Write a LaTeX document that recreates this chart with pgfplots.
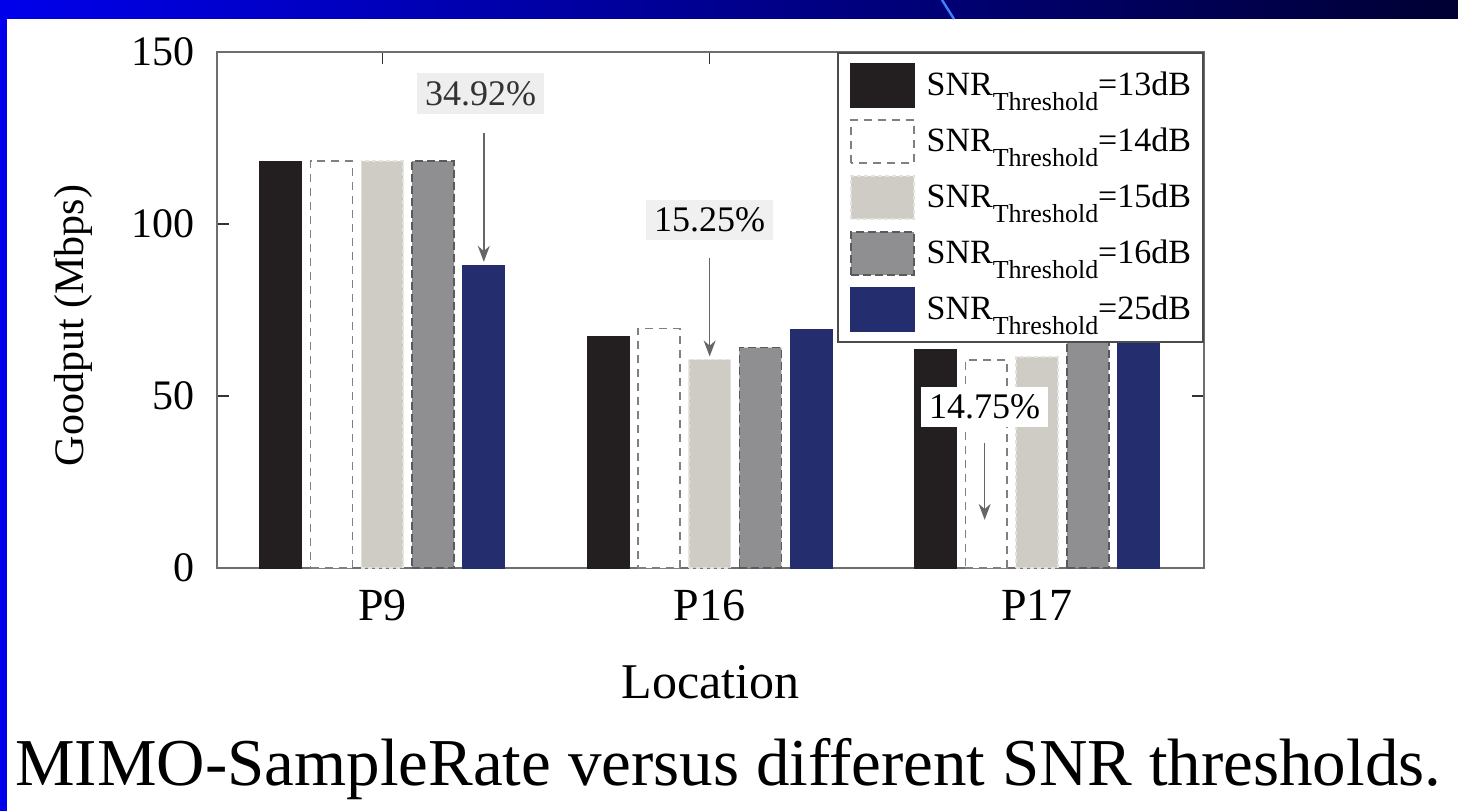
\documentclass[border=0pt]{standalone}
\usepackage{pgfplots}
\pgfplotsset{compat=1.18}
\usepackage{fontspec}
\setmainfont{Liberation Serif}
\usetikzlibrary{arrows.meta}
\definecolor{c13}{RGB}{35,31,32}
\definecolor{c14e}{RGB}{128,128,128}
\definecolor{c15}{RGB}{206,204,196}
\definecolor{c15e}{RGB}{228,226,220}
\definecolor{c16}{RGB}{143,143,146}
\definecolor{c16e}{RGB}{90,90,92}
\definecolor{c25}{RGB}{36,46,110}
\definecolor{axgray}{RGB}{110,110,110}
\definecolor{bgL}{RGB}{0,0,235}
\definecolor{bgM}{RGB}{0,0,190}
\definecolor{bgR}{RGB}{0,0,50}
\definecolor{streak}{RGB}{60,130,255}
\definecolor{boxA}{RGB}{238,238,238}
\definecolor{boxB}{RGB}{240,240,240}
\newcommand\sub[1]{\raisebox{-7.5pt}{\fontsize{13}{13}\selectfont #1}}
\begin{document}
\begin{tikzpicture}
\useasboundingbox (0,0) rectangle (729pt,405.5pt);
\fill[white] (0,0) rectangle (729pt,405.5pt);
\shade[left color=bgL, middle color=bgM, right color=bgR] (0,396pt) rectangle (729pt,405.5pt);
\fill[bgL] (0,0) rectangle (3.5pt,405.5pt);
\draw[streak, line width=1.2pt] (471pt,405.5pt) -- (477pt,396pt);
\begin{axis}[
  at={(108.5pt,121.5pt)}, anchor=south west,
  scale only axis, width=493.5pt, height=258pt,
  xmin=-0.505, xmax=2.51, ymin=0, ymax=150,
  xtick={0,1,2}, xticklabels={P9,P16,P17},
  ytick={0,50,100,150}, yticklabels={0,50,100,150},
  tick align=inside, major tick length=6pt,
  axis line style={axgray, line width=0.9pt},
  tick style={black!80, line width=0.7pt},
  xticklabel style={font=\fontsize{23}{23}\selectfont, inner sep=0pt, yshift=-11pt},
  yticklabel style={font=\fontsize{21}{21}\selectfont, inner sep=0pt, xshift=-11pt},
  xlabel={Location},
  xlabel style={font=\fontsize{25}{25}\selectfont, at={(axis description cs:0.5,-0.222)}, anchor=center},
  ylabel={Goodput (Mbps)},
  ylabel style={font=\fontsize{21}{21}\selectfont, at={(axis description cs:-0.146,0.47)}, anchor=center},
  legend style={at={(1,1)}, anchor=north east, draw=black!70, line width=0.9pt, fill=white,
    inner xsep=6pt, inner ysep=5pt, row sep=5.5pt, column sep=6pt,
    font=\fontsize{17}{17}\selectfont, nodes={inner sep=0pt}},
  legend cell align=left,
  legend image code/.code={\draw[#1, line width=0.9pt] (0pt,-10.8pt) rectangle (31.5pt,10.8pt);},
]
\addplot[ybar, bar width=0.128, bar shift=-0.31, fill=c13, draw=c13]
  coordinates {(0,118.3) (1,67.3) (2,63.6)};
\addlegendentry{SNR\sub{Threshold}=13dB}
\addplot[ybar, bar width=0.128, bar shift=-0.155, fill=white, draw=c14e, dash pattern=on 4pt off 3pt, line width=0.8pt]
  coordinates {(0,118.3) (1,69.6) (2,60.5)};
\addlegendentry{SNR\sub{Threshold}=14dB}
\addplot[ybar, bar width=0.128, bar shift=0, fill=c15, draw=c15e, dash pattern=on 2pt off 1.5pt, line width=0.8pt]
  coordinates {(0,118.3) (1,60.6) (2,61.4)};
\addlegendentry{SNR\sub{Threshold}=15dB}
\addplot[ybar, bar width=0.128, bar shift=0.155, fill=c16, draw=c16e, dash pattern=on 4pt off 2pt, line width=0.8pt]
  coordinates {(0,118.3) (1,64.1) (2,71)};
\addlegendentry{SNR\sub{Threshold}=16dB}
\addplot[ybar, bar width=0.128, bar shift=0.31, fill=c25, draw=c25]
  coordinates {(0,88) (1,69.3) (2,74)};
\addlegendentry{SNR\sub{Threshold}=25dB}
\node[fill=boxA, text=black!80, font=\fontsize{18}{18}\selectfont, inner xsep=4pt, inner ysep=4pt] at (0.30,138) {34.92\%};
\draw[-{Stealth[length=8pt,width=6pt]}, black!60, line width=0.7pt] (0.31,126.5) -- (0.31,89);
\node[fill=boxB, text=black, font=\fontsize{18}{18}\selectfont, inner xsep=4pt, inner ysep=4pt] at (1.0,101.2) {15.25\%};
\draw[-{Stealth[length=8pt,width=6pt]}, black!60, line width=0.7pt] (1.0,90) -- (1.0,61.5);
\node[fill=white, text=black, font=\fontsize{18}{18}\selectfont, inner xsep=4pt, inner ysep=4pt] at (1.84,46.8) {14.75\%};
\draw[-{Stealth[length=8pt,width=6pt]}, black!60, line width=0.6pt] (1.84,36.3) -- (1.84,14);
\end{axis}
\node[anchor=base west, font=\fontsize{33.5}{33.5}\selectfont, inner sep=0pt] at (7.5pt,13pt) {MIMO-SampleRate versus different SNR thresholds.};
\end{tikzpicture}
\end{document}
